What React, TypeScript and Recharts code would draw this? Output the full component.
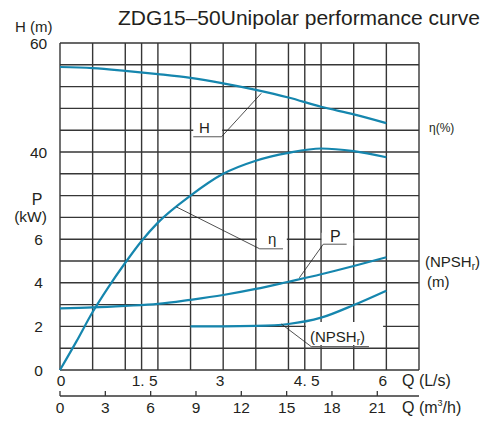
import {
  LineChart,
  Line,
  XAxis,
  YAxis,
  CartesianGrid,
  ReferenceLine,
  ReferenceArea,
} from "recharts";

// Flow Q (L/s) shared by head and power curves
const flowLs = [0, 0.6, 1.2, 1.8, 2.4, 3.0, 3.6, 4.2, 4.8, 5.4, 6.0];
const headM = [55.6, 55.4, 54.9, 54.3, 53.6, 52.6, 51.4, 50.0, 48.3, 46.9, 45.3];
const powerKw = [2.83, 2.87, 2.94, 3.03, 3.22, 3.44, 3.72, 4.05, 4.39, 4.77, 5.17];

// Efficiency curve
const effFlowLs = [0, 0.3, 0.6, 0.9, 1.2, 1.5, 1.8, 2.4, 3.0, 3.6, 4.2, 4.8, 5.4, 6.0];
const effPct = [0, 6.5, 13.3, 19.2, 24.6, 29.6, 33.8, 40.0, 45.0, 48.0, 49.8, 50.8, 50.2, 48.8];

// NPSHr curve
const npshFlowLs = [2.4, 3.0, 3.6, 4.2, 4.8, 5.4, 6.0];
const npshM = [2.0, 2.0, 2.02, 2.11, 2.4, 2.98, 3.64];

// Axes / grid
const gridFlowTicks = [0, 0.6, 1.2, 1.5, 1.8, 2.4, 3, 3.6, 4.2, 4.5, 4.8, 5.4, 6, 6.6];
const flowLabelValues = [0, 1.5, 3, 4.5, 6];
const flowLabels = ["0", "1. 5", "3", "4. 5", "6"];
const m3hTicks = [0, 3, 6, 9, 12, 15, 18, 21];
const gridRows = [0, 1, 2, 3, 4, 5, 6, 7, 8, 9, 10, 11, 12, 13, 14, 15];
const leftTickValues = [0, 2, 4, 6, 10, 15];
const leftTickLabels = ["0", "2", "4", "6", "40", "60"];
const rightTickValues = [1, 2, 3, 6, 8, 10];
const rightTickLabels = ["1", "2", "3", "30", "40", "50"];

// one grid row = 4 m head = 1 kW = 5 % = 1 m NPSHr
const headData = flowLs.map((q, i) => ({ q, v: headM[i] / 4 }));
const powerData = flowLs.map((q, i) => ({ q, v: powerKw[i] }));
const effData = effFlowLs.map((q, i) => ({ q, v: effPct[i] / 5 }));
const npshData = npshFlowLs.map((q, i) => ({ q, v: npshM[i] }));

// 1 L/s = 3.6 m³/h; the second axis runs in L/s with m³/h labels
const M3H_PER_LS = 3.6;
const m3hTicksInLs = m3hTicks.map((t) => t / M3H_PER_LS);

const CURVE = "#1586ae";
const GRID = "#363636";
const TEXT = "#231f20";
const FONT = '"Liberation Sans", Arial, sans-serif';

function LeftTick({ y, payload }: any) {
  const i = leftTickValues.indexOf(payload.value);
  if (i < 0) return <g />;
  return (
    <text x={38.5} y={y} dy="0.36em" textAnchor="middle" fontSize={15.5} fill={TEXT}>
      {leftTickLabels[i]}
    </text>
  );
}

function RightTick({ y, payload }: any) {
  const i = rightTickValues.indexOf(payload.value);
  if (i < 0) return <g />;
  return (
    <text x={425} y={y} dy="0.36em" textAnchor="start" fontSize={15.5} fill={TEXT}>
      {rightTickLabels[i]}
    </text>
  );
}

const flowDx = [1, 3, -3, 2, -3.5];

function FlowTick({ x, y, payload }: any) {
  const i = flowLabelValues.indexOf(payload.value);
  if (i < 0) return <g />;
  return (
    <text x={x + flowDx[i]} y={y + 15.5} textAnchor="middle" fontSize={15.5} fill={TEXT}>
      {flowLabels[i]}
    </text>
  );
}

function M3hTick({ x, y, payload }: any) {
  return (
    <g>
      <line x1={x} y1={y} x2={x} y2={y - 5} stroke={GRID} strokeWidth={1.3} />
      <text x={x} y={y + 17} textAnchor="middle" fontSize={15.5} fill={TEXT}>
        {Math.round(payload.value * M3H_PER_LS)}
      </text>
    </g>
  );
}

const leader = { stroke: "#222", strokeWidth: 0.8 };
const under = { stroke: "#666", strokeWidth: 1.1 };
const box = { fill: "#fff", fillOpacity: 1, stroke: "none" };

export default function App() {
  return (
    <div style={{ position: "relative", width: 489, height: 421, fontFamily: FONT, background: "#fff" }}>
      <style>{`body{margin:0}`}</style>
      <LineChart width={489} height={421} margin={{ top: 43, right: 10, bottom: 0, left: 20 }} style={{ fontFamily: FONT }}>
        <CartesianGrid stroke={GRID} strokeWidth={1.4} />
        <XAxis
          dataKey="q"
          type="number"
          domain={[0, 6.6]}
          ticks={gridFlowTicks}
          interval={0}
          axisLine={false}
          tickLine={false}
          tickSize={0}
          tickMargin={0}
          height={26}
          tick={<FlowTick />}
        />
        <XAxis
          xAxisId="m3"
          dataKey="q"
          type="number"
          domain={[0, 6.6]}
          ticks={m3hTicksInLs}
          interval={0}
          axisLine={{ stroke: GRID, strokeWidth: 1.3 }}
          tickLine={false}
          tickSize={0}
          tickMargin={0}
          height={25}
          tick={<M3hTick />}
        />
        <YAxis
          type="number"
          domain={[0, 15]}
          ticks={gridRows}
          interval={0}
          axisLine={false}
          tickLine={false}
          width={40}
          tick={<LeftTick />}
        />
        <YAxis
          yAxisId="r"
          orientation="right"
          type="number"
          domain={[0, 15]}
          ticks={gridRows}
          interval={0}
          axisLine={false}
          tickLine={false}
          width={60}
          tick={<RightTick />}
        />

        {/* white boxes behind callout labels */}
        <ReferenceArea x1={2.45} x2={2.98} y1={10.78} y2={11.56} {...box} />
        <ReferenceArea x1={3.62} x2={4.17} y1={5.7} y2={6.3} {...box} />
        <ReferenceArea x1={4.81} x2={5.39} y1={5.7} y2={6.3} {...box} />
        <ReferenceArea x1={4.52} x2={5.94} y1={1.15} y2={2.2} {...box} />

        <Line data={headData} dataKey="v" type="monotone" stroke={CURVE} strokeWidth={2.2} dot={false} isAnimationActive={false} />
        <Line data={effData} dataKey="v" type="monotone" stroke={CURVE} strokeWidth={2.2} dot={false} isAnimationActive={false} />
        <Line data={powerData} dataKey="v" type="monotone" stroke={CURVE} strokeWidth={2.2} dot={false} isAnimationActive={false} />
        <Line xAxisId="m3" data={npshData} dataKey="v" type="monotone" stroke={CURVE} strokeWidth={2.2} dot={false} isAnimationActive={false} />

        {/* callout leaders */}
        <ReferenceLine segment={[{ x: 2.45, y: 10.7 }, { x: 2.97, y: 10.7 }]} {...under} />
        <ReferenceLine segment={[{ x: 2.97, y: 10.7 }, { x: 3.7, y: 12.69 }]} {...leader} />
        <ReferenceLine segment={[{ x: 3.67, y: 5.56 }, { x: 4.1, y: 5.56 }]} {...under} />
        <ReferenceLine segment={[{ x: 2.14, y: 7.48 }, { x: 3.67, y: 5.56 }]} {...leader} />
        <ReferenceLine segment={[{ x: 4.84, y: 5.77 }, { x: 5.27, y: 5.77 }]} {...under} />
        <ReferenceLine segment={[{ x: 4.84, y: 5.77 }, { x: 4.4, y: 4.23 }]} {...leader} />
        <ReferenceLine segment={[{ x: 4.62, y: 1.07 }, { x: 5.68, y: 1.07 }]} {...under} />
        <ReferenceLine segment={[{ x: 4.62, y: 1.07 }, { x: 4.07, y: 2.11 }]} {...leader} />
      </LineChart>

      <svg width={489} height={421} style={{ position: "absolute", left: 0, top: 0, pointerEvents: "none" }} fontFamily={FONT} fill={TEXT}>
        <text x={118} y={25} fontSize={21}>ZDG15–50Unipolar performance curve</text>
        <text x={15} y={32} fontSize={15}>H (m)</text>
        <text x={37} y={205} fontSize={16} textAnchor="middle">P</text>
        <text x={30.5} y={222} fontSize={15.5} textAnchor="middle">(kW)</text>

        <text x={429} y={131.5} fontSize={12}>η(%)</text>
        <text x={425} y={267} fontSize={15}>
          (NPSH<tspan fontSize={10} dy={3}>r</tspan><tspan dy={-3}>)</tspan>
        </text>
        <text x={427} y={287} fontSize={15}>(m)</text>

        <text x={402} y={385.5} fontSize={16}>Q (L/s)</text>
        <text x={402} y={413} fontSize={16}>
          Q (m<tspan fontSize={9} dy={-7}>3</tspan><tspan dy={7}>/h)</tspan>
        </text>

        <text x={199} y={133} fontSize={15}>H</text>
        <text x={268} y={244} fontSize={15}>η</text>
        <text x={330} y={241.5} fontSize={16}>P</text>
        <text x={310} y={341.5} fontSize={15}>
          (NPSH<tspan fontSize={10} dy={3}>r</tspan><tspan dy={-3}>)</tspan>
        </text>
      </svg>
    </div>
  );
}
